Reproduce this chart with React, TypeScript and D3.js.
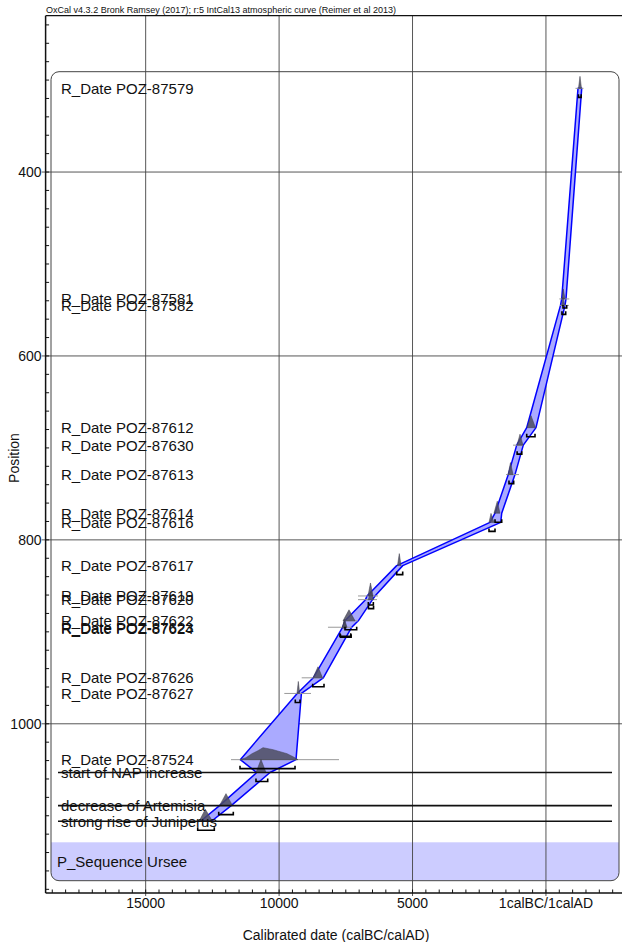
import React from 'react';
import * as d3 from 'd3';

const W = 622;
const H = 942;

// ---- Labels (R_Date entries) and their positions (depth)
const dateNames = [
  'R_Date POZ-87579', 'R_Date POZ-87581', 'R_Date POZ-87582', 'R_Date POZ-87612',
  'R_Date POZ-87630', 'R_Date POZ-87613', 'R_Date POZ-87614', 'R_Date POZ-87616',
  'R_Date POZ-87617', 'R_Date POZ-87619', 'R_Date POZ-87620', 'R_Date POZ-87622',
  'R_Date POZ-87623', 'R_Date POZ-87624', 'R_Date POZ-87626', 'R_Date POZ-87627',
  'R_Date POZ-87524',
];
const datePositions = [309, 538, 545, 678, 697, 729, 771, 781, 828, 861, 865, 888, 895, 896, 950, 967, 1039];

// posterior (triangular summary): older edge, mode, younger edge (calBC, AD negative), relative peak
const postOld = [-1220, -600, -590, 710, 1085, 1422, 1948, 2134, 5563, 6669, 6660, 7605, 7624, 7640, 8729, 9329];
const postMode = [-1276, -650, -638, 560, 972, 1328, 1823, 2059, 5495, 6575, 6556, 7380, 7549, 7560, 8542, 9280];
const postYoung = [-1332, -713, -700, 392, 860, 1234, 1723, 1947, 5432, 6481, 6460, 7155, 7455, 7470, 8373, 9227];
const postPeak = [12, 10, 8, 12, 11, 12, 12, 9, 12, 13, 8, 11, 8, 7, 11, 12];

// the broad posterior of POZ-87524
const bigPostYears = [11465, 11240, 11015, 10790, 10603, 10415, 10228, 9966, 9704, 9479, 9291];
const bigPostDensity = [0, 2, 6, 9, 12, 11, 10, 8, 6, 3, 0];

// likelihood ranges (grey lines), null where not visible
const likeOld = [-1107, -501, -520, null, 1234, 1497, null, null, null, 7043, 7043, 7605, 8168, null, 9153, 9805, 11802];
const likeYoung = [-1407, -876, -860, null, 860, 1010, null, null, null, 6293, 6330, 7043, 7268, null, 8344, 8804, 7755];

// range brackets below each date
const bracketOld = [-1220, -639, -600, 721, 1080, 1385, 1909, 2134, 5593, 6656, 6650, 7530, 7718, 7700, 8741, 9393, 11465];
const bracketYoung = [-1320, -778, -740, 410, 905, 1209, 1658, 1909, 5368, 6468, 6460, 7092, 7317, 7300, 8317, 9217, 9403];

// ---- Events (Date with horizontal lines)
const eventNames = ['start of NAP increase', 'decrease of Artemisia', 'strong rise of Juniperus'];
const eventPositions = [1053, 1089, 1106];
const eventOld = [10866, 12233, 12998];
const eventMode = [10678, 11990, 12765];
const eventYoung = [10491, 11746, 12496];
const eventPeak = [13, 12, 12];
const eventBracketOld = [10866, 12263, 13050];
const eventBracketYoung = [10427, 11716, 12428];

// ---- Depth-model envelope
const envPos = [309, 538, 545, 678, 697, 729, 771, 781, 828, 861, 865, 888, 895, 950, 967, 1039, 1053, 1089, 1106];
const envOld = [-1201, -590, -545, 721, 1096, 1411, 1909, 2097, 5593, 6706, 6762, 7530, 7617, 8718, 9322, 11454, 10839, 12233, 12945];
const envYoung = [-1340, -751, -714, 373, 849, 1160, 1658, 1695, 5368, 6406, 6500, 7032, 7279, 8344, 9164, 9366, 10341, 11795, 12533];

// ---- Axes
const xMajorTicks = [15000, 10000, 5000, 0];
const xTickLabels = ['15000', '10000', '5000', '1calBC/1calAD'];
const yMajorTicks = [400, 600, 800, 1000];
const yTickLabels = ['400', '600', '800', '1000'];
const sequenceName = 'P_Sequence Ursee';
const headerText = 'OxCal v4.3.2 Bronk Ramsey (2017); r:5 IntCal13 atmospheric curve (Reimer et al 2013)';

const FONT = "'Liberation Sans', Arial, Helvetica, sans-serif";

export default function App() {
  const x = d3.scaleLinear().domain([18750, -2850]).range([45.6, 622]);
  const y = d3.scaleLinear().domain([230, 1184]).range([15.7, 893]);
  const peakScale = d3.scaleLinear().domain([0, 1]).range([0, 1]);

  const plotL = 45.6;
  const plotT = 15.7;
  const plotB = 893;
  const plotR = 622;

  const box = { x: 51, y: 71.7, w: 568, h: 809, r: 8 };
  const bandTop = 842.3;

  const line = d3.line<[number, number]>();

  const envPts: [number, number][] = [
    ...envPos.map((p, i) => [x(envOld[i]), y(p)] as [number, number]),
    ...envPos.map((p, i) => [x(envYoung[i]), y(p)] as [number, number]).reverse(),
  ];
  const envPath = line(envPts) + 'Z';

  const tri = (o: number, m: number, yg: number, pk: number, p: number) => {
    const yy = y(p);
    const pts: [number, number][] = [
      [x(o), yy],
      [x(m), yy - peakScale(pk)],
      [x(yg), yy],
    ];
    return line(pts) + 'Z';
  };

  const bigPts: [number, number][] = bigPostYears.map((b, i) => [x(b), y(datePositions[16]) - bigPostDensity[i]]);
  const bigPath = line(bigPts) + 'Z';

  const bracket = (o: number, yg: number, p: number, key: string) => {
    const yy = y(p) + 9;
    const x0 = x(o);
    const x1 = x(yg);
    return (
      <path
        key={key}
        d={`M${x0},${yy - 3}L${x0},${yy}L${x1},${yy}L${x1},${yy - 3}`}
        fill="none"
        stroke="#000"
        strokeWidth={1.6}
      />
    );
  };

  const xMinor = d3.range(18500, -2850, -500);
  const yMinor = d3.range(240, 1184, 20);

  return (
    <div style={{ position: 'absolute', left: 0, top: 0 }}>
      <svg width={W} height={H} style={{ display: 'block', background: '#fff' }} fontFamily={FONT}>
        <defs>
          <clipPath id="boxclip">
            <rect x={box.x} y={box.y} width={box.w} height={box.h} rx={box.r} ry={box.r} />
          </clipPath>
        </defs>
        <rect x={0} y={0} width={W} height={H} fill="#fff" />

        {/* sequence band */}
        <rect
          x={box.x}
          y={bandTop}
          width={box.w}
          height={box.y + box.h - bandTop}
          fill="#ccccff"
          clipPath="url(#boxclip)"
        />

        {/* grid lines */}
        {xMajorTicks.map((t) => (
          <line key={'gx' + t} x1={x(t)} x2={x(t)} y1={plotT} y2={plotB + 3} stroke="#444" strokeWidth={0.9} />
        ))}
        {yMajorTicks.map((t) => (
          <line key={'gy' + t} x1={plotL - 4} x2={plotR} y1={y(t)} y2={y(t)} stroke="#444" strokeWidth={0.9} />
        ))}

        {/* rounded box */}
        <rect x={box.x} y={box.y} width={box.w} height={box.h} rx={box.r} ry={box.r} fill="none" stroke="#444" strokeWidth={1} />

        {/* envelope */}
        <path d={envPath} fill="#aaaaff" stroke="#0000ff" strokeWidth={1.5} strokeLinejoin="round" />

        {/* likelihood lines */}
        {datePositions.map((p, i) =>
          likeOld[i] == null ? null : (
            <line
              key={'lk' + i}
              x1={x(likeOld[i] as number)}
              x2={x(likeYoung[i] as number)}
              y1={y(p)}
              y2={y(p)}
              stroke="#9a9a9a"
              strokeWidth={1}
            />
          )
        )}

        {/* posteriors */}
        {postOld.map((o, i) => (
          <path
            key={'po' + i}
            d={tri(o, postMode[i], postYoung[i], postPeak[i], datePositions[i])}
            fill="#4e4e60"
            fillOpacity={0.85}
            stroke="#3a3a48"
            strokeWidth={0.5}
          />
        ))}
        <path d={bigPath} fill="#4e4e60" fillOpacity={0.85} stroke="#3a3a48" strokeWidth={0.5} />
        {eventOld.map((o, i) => (
          <path
            key={'ev' + i}
            d={tri(o, eventMode[i], eventYoung[i], eventPeak[i], eventPositions[i])}
            fill="#4e4e60"
            fillOpacity={0.85}
            stroke="#3a3a48"
            strokeWidth={0.5}
          />
        ))}

        {/* brackets */}
        {bracketOld.map((o, i) => bracket(o, bracketYoung[i], datePositions[i], 'br' + i))}
        {eventBracketOld.map((o, i) => bracket(o, eventBracketYoung[i], eventPositions[i], 'ebr' + i))}

        {/* event lines */}
        {eventPositions.map((p, i) => (
          <line key={'el' + i} x1={58} x2={612} y1={y(p)} y2={y(p)} stroke="#111" strokeWidth={1.6} />
        ))}

        {/* labels */}
        {dateNames.map((n, i) => (
          <text key={'dn' + i} x={61} y={y(datePositions[i])} dy="0.36em" fontSize={15} fill="#111">
            {n}
          </text>
        ))}
        {eventNames.map((n, i) => (
          <text key={'en' + i} x={61} y={y(eventPositions[i])} dy="0.36em" fontSize={15} fill="#111">
            {n}
          </text>
        ))}
        <text x={57} y={(bandTop + box.y + box.h) / 2} dy="0.36em" fontSize={15} fill="#111">
          {sequenceName}
        </text>

        {/* axes */}
        <line x1={plotL} x2={plotR} y1={plotT} y2={plotT} stroke="#111" strokeWidth={1.2} />
        <line x1={plotL} x2={plotL} y1={plotT} y2={plotB} stroke="#111" strokeWidth={1.5} />
        <line x1={plotL} x2={plotR} y1={plotB} y2={plotB} stroke="#111" strokeWidth={1.5} />
        {xMinor.map((t) => (
          <line key={'xm' + t} x1={x(t)} x2={x(t)} y1={plotB} y2={plotB - 3.5} stroke="#111" strokeWidth={1} />
        ))}
        {yMinor.map((t) => (
          <line key={'ym' + t} x1={plotL} x2={plotL + 3.5} y1={y(t)} y2={y(t)} stroke="#111" strokeWidth={1} />
        ))}
        {xMajorTicks.map((t, i) => (
          <text key={'xl' + t} x={x(t)} y={908} textAnchor="middle" fontSize={14} fill="#111">
            {xTickLabels[i]}
          </text>
        ))}
        {yMajorTicks.map((t, i) => (
          <text key={'yl' + t} x={41.5} y={y(t)} dy="0.36em" textAnchor="end" fontSize={14} fill="#111">
            {yTickLabels[i]}
          </text>
        ))}
        <text x={336} y={940} textAnchor="middle" fontSize={14} fill="#111">
          Calibrated date (calBC/calAD)
        </text>
        <text transform="translate(19,458) rotate(-90)" textAnchor="middle" fontSize={14} fill="#111">
          Position
        </text>
        <text x={46} y={13} fontSize={9} fill="#111" textLength={350} lengthAdjust="spacingAndGlyphs">
          {headerText}
        </text>
      </svg>
    </div>
  );
}
